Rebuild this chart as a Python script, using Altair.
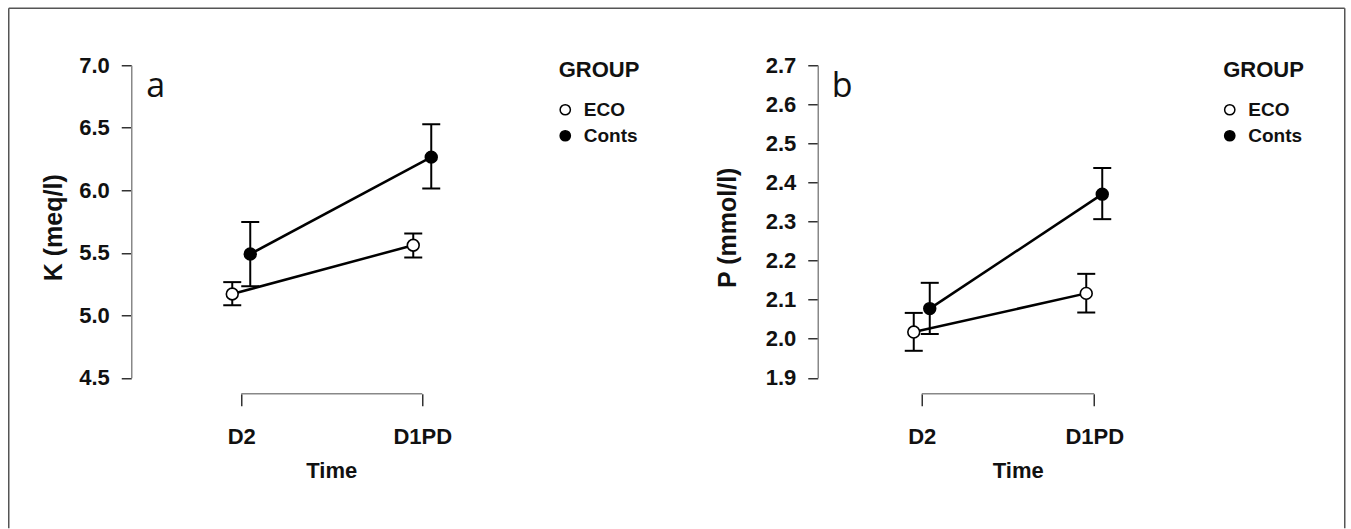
import altair as alt
import pandas as pd

# ---------------- data ----------------
times = ["D2", "D1PD"]
groups = ["ECO", "Conts"]

k_mean = {"ECO": [5.17, 5.56], "Conts": [5.49, 6.265]}
k_lo = {"ECO": [5.08, 5.462], "Conts": [5.232, 6.014]}
k_hi = {"ECO": [5.265, 5.654], "Conts": [5.746, 6.528]}
k_ticks = [4.5, 5.0, 5.5, 6.0, 6.5, 7.0]

p_mean = {"ECO": [2.017, 2.116], "Conts": [2.077, 2.370]}
p_lo = {"ECO": [1.969, 2.067], "Conts": [2.012, 2.306]}
p_hi = {"ECO": [2.066, 2.166], "Conts": [2.143, 2.437]}
p_ticks = [1.9, 2.0, 2.1, 2.2, 2.3, 2.4, 2.5, 2.6, 2.7]


def make_df(mean, lo, hi):
    rows = []
    for g in groups:
        for i, t in enumerate(times):
            rows.append(dict(GROUP=g, Time=t, t_idx=i + 1,
                             mean=mean[g][i], lo=lo[g][i], hi=hi[g][i]))
    return pd.DataFrame(rows)


FONT = "Liberation Sans"
WEIGHT = "bold"
H = 312.5
W = 400


def panel(df, ytitle, yticks, letter, px_unit, left_gap, dodge_px,
          legend_x, ytitle_pad, border=False):
    xmin = 1 - left_gap / px_unit
    xmax = xmin + W / px_unit
    dodge = dodge_px / px_unit
    xscale = alt.Scale(domain=[xmin, xmax], nice=False, zero=False)
    xaxis = alt.Axis(values=list(range(1, len(times) + 1)),
                     labelExpr="datum.value == 1 ? '%s' : '%s'" % (times[0], times[1]),
                     domain=False, grid=False, tickSize=12, tickWidth=1.5,
                     tickColor="#333", offset=16, labelFontSize=22,
                     labelFontWeight=WEIGHT,
                     labelColor="#111", labelPadding=21, labelFont=FONT,
                     title="Time", titleFontSize=22, titleFontWeight=WEIGHT,
                     titleColor="#111", titlePadding=13, titleFont=FONT)
    yscale = alt.Scale(domain=[yticks[0], yticks[-1]], nice=False, zero=False)
    yaxis = alt.Axis(values=yticks, format=".1f", grid=False, tickSize=10,
                     tickWidth=1.5, tickColor="#333", domainColor="#888",
                     domainWidth=1.5, labelFontSize=22, labelFontWeight=WEIGHT,
                     labelColor="#111",
                     labelPadding=12, labelFont=FONT, title=ytitle,
                     titleFontSize=25, titleFontWeight=WEIGHT,
                     titleColor="#111", titlePadding=ytitle_pad, titleFont=FONT,
                     titleY=162)

    def X(field):
        return alt.X(field, type="quantitative", scale=xscale, axis=xaxis)

    def Y(field):
        return alt.Y(field, type="quantitative", scale=yscale, axis=yaxis)

    base = alt.Chart(df).transform_calculate(
        xpos="datum.t_idx + (datum.GROUP == 'ECO' ? %f : %f)" % (-dodge, dodge)
    )
    whisk = base.mark_rule(color="black", strokeWidth=2).encode(
        x=X("xpos"), y=Y("lo"), y2="hi:Q")
    cap_lo = base.mark_tick(orient="horizontal", size=18, thickness=2,
                            color="black", opacity=1).encode(x=X("xpos"), y=Y("lo"))
    cap_hi = base.mark_tick(orient="horizontal", size=18, thickness=2,
                            color="black", opacity=1).encode(x=X("xpos"), y=Y("hi"))
    line = base.mark_line(color="black", strokeWidth=2.5).encode(
        x=X("xpos"), y=Y("mean"), detail="GROUP:N")
    pts = base.mark_point(filled=True, shape="circle", size=140, stroke="black",
                          strokeWidth=1.6, opacity=1, fillOpacity=1).encode(
        x=X("xpos"), y=Y("mean"),
        fill=alt.Fill("GROUP:N",
                      scale=alt.Scale(domain=groups, range=["white", "black"]),
                      legend=alt.Legend(title="GROUP", orient="none",
                                        legendX=legend_x, legendY=-5,
                                        titleFontSize=22, titleFontWeight=WEIGHT,
                                        titleFont=FONT, titleColor="#111",
                                        labelFontSize=19, labelFont=FONT,
                                        labelFontWeight=WEIGHT,
                                        labelColor="#111", symbolType="circle",
                                        symbolSize=105, symbolStrokeColor="black",
                                        symbolStrokeWidth=1.5, labelOffset=9,
                                        symbolOffset=-3,
                                        rowPadding=6, titlePadding=18, padding=0)))
    axis_df = pd.DataFrame({"x0": [1], "x1": [len(times)]})
    xline = alt.Chart(axis_df).mark_rule(color="#888", strokeWidth=1.5).encode(
        x=X("x0"), x2="x1:Q", y=alt.value(H + 16))
    lab = alt.Chart(pd.DataFrame({"label": [letter]})).mark_text(
        font="Open Sans", fontSize=34, align="center", baseline="middle",
        fontWeight=500, color="#111").encode(
        text="label:N", x=alt.value(24.5), y=alt.value(21.5))
    layers = [whisk, cap_lo, cap_hi, line, pts, xline, lab]
    if border:
        one = pd.DataFrame({"k": [0]})
        bl = alt.Chart(one).mark_rule(color="#555", strokeWidth=1.5).encode(
            x=alt.value(-122.5), y=alt.value(-57), y2=alt.value(463))
        bt = alt.Chart(one).mark_rule(color="#555", strokeWidth=1.5).encode(
            x=alt.value(-122.5), x2=alt.value(1213.5), y=alt.value(-57))
        br = alt.Chart(one).mark_rule(color="#555", strokeWidth=1.5).encode(
            x=alt.value(1213.5), y=alt.value(-57), y2=alt.value(463))
        layers += [bl, bt, br]
    return alt.layer(*layers).properties(width=W, height=H)


pa = panel(make_df(k_mean, k_lo, k_hi), "K (meq/l)", k_ticks, "a",
           px_unit=181, left_gap=110, dodge_px=9, legend_x=427.5,
           ytitle_pad=12, border=True)
pb = panel(make_df(p_mean, p_lo, p_hi), "P (mmol/l)", p_ticks, "b",
           px_unit=172.5, left_gap=104, dodge_px=8, legend_x=405.5,
           ytitle_pad=25)

chart = alt.hconcat(pa, pb, spacing=286.5, bounds="flush").resolve_scale(
    fill="independent").resolve_legend(fill="independent").properties(
    padding={"left": 7.25, "top": 7.25, "right": 0, "bottom": 0},
    background="white"
).configure(font=FONT).configure_view(stroke="transparent", strokeWidth=0)

chart.save("out.html", embed_options={"renderer": "svg", "actions": False})
